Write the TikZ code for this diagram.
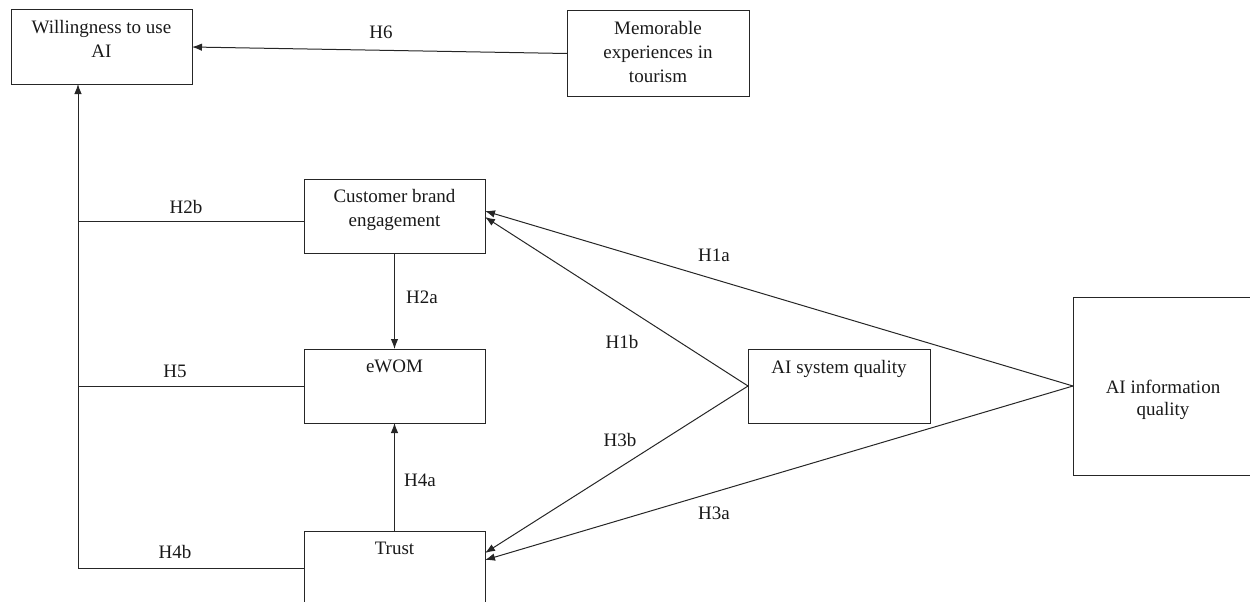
\documentclass[tikz,border=0pt]{standalone}
\usepackage{fontspec}
\setmainfont{Liberation Serif}
\usetikzlibrary{arrows.meta}
\begin{document}
\begin{tikzpicture}[x=1pt,y=-1pt,
  box/.style={draw=black!85, line width=1pt, minimum width=181pt, minimum height=74pt, inner sep=0pt, outer sep=0pt},
  txt/.style={font=\fontsize{19}{24}\selectfont, inner sep=0pt, anchor=base, text=black!90},
  con/.style={draw=black!85, line width=1pt},
  arr/.style={con, -{Latex[length=10pt,width=7.5pt]}},
]
\useasboundingbox (0,0) rectangle (1250,602);
\clip (0,0) rectangle (1250,602);
% boxes
\node[box] (will) at (101.5,47) {};
\node[box, minimum width=182pt, minimum height=85pt] (mem) at (658,53.5) {};
\node[box] (cbe) at (394.5,216) {};
\node[box] (ewom) at (394.5,386) {};
\node[box] (trust) at (394.5,568) {};
\node[box, minimum width=182pt] (sys) at (839,386) {};
\node[box, minimum width=180pt, minimum height=178pt] (info) at (1163,386) {};
% box texts
\node[txt] (will1) at (101.5,34) {Willingness to use};
\node[txt] (will2) at (101.5,58) {AI};
\node[txt] (mem1) at (658,35) {Memorable};
\node[txt] (mem2) at (658,59) {experiences in};
\node[txt] (mem3) at (658,82) {tourism};
\node[txt] (cbe1) at (394.5,202) {Customer brand};
\node[txt] (cbe2) at (394.5,226) {engagement};
\node[txt] (ewom1) at (394.5,372) {eWOM};
\node[txt] (trust1) at (394.5,554) {Trust};
\node[txt] (sys1) at (839,373) {AI system quality};
\node[txt] (info1) at (1163,393) {AI information};
\node[txt] (info2) at (1163,415) {quality};
% connectors
\coordinate (bus) at (78,0);
\draw[arr] (mem.west) -- (will.east);
\draw[arr] (trust.west) -| (will.south -| bus);
\draw[con] ([yshift=-5pt]cbe.west) -- ([yshift=-5pt]cbe.west -| bus);
\draw[con] (ewom.west) -- (ewom.west -| bus);
\draw[arr] (cbe.south) -- (ewom.north);
\draw[arr] (trust.north) -- (ewom.south);
\draw[arr] (info.west) -- ([yshift=5pt]cbe.east);
\draw[arr] (sys.west) -- ([yshift=-1pt]cbe.east);
\draw[arr] (sys.west) -- ([yshift=15pt]trust.east);
\draw[arr] (info.west) -- ([yshift=8pt]trust.east);
% labels
\node[txt] (lH6) at (381,39) {H6};
\node[txt] (lH2b) at (186,213) {H2b};
\node[txt] (lH2a) at (422,303) {H2a};
\node[txt] (lH5) at (175,377) {H5};
\node[txt] (lH4a) at (420,486) {H4a};
\node[txt] (lH4b) at (175,558) {H4b};
\node[txt] (lH1a) at (714,261) {H1a};
\node[txt] (lH1b) at (622,348) {H1b};
\node[txt] (lH3b) at (620,446) {H3b};
\node[txt] (lH3a) at (714,519) {H3a};
\end{tikzpicture}
\end{document}
